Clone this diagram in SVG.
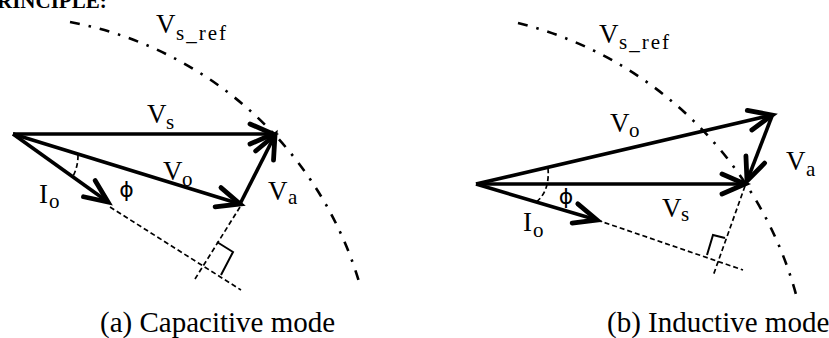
<svg xmlns="http://www.w3.org/2000/svg" width="829" height="338" viewBox="0 0 829 338">
<style>
.vec{fill:none;stroke:#000;stroke-width:3.6;marker-end:url(#ah)}
.dash{fill:none;stroke:#000;stroke-width:1.7;stroke-dasharray:5 3}
.mark{fill:none;stroke:#000;stroke-width:2}
.circ{fill:none;stroke:#000;stroke-width:2.6;stroke-dasharray:10 9 2.5 9}
.v{font-family:"Liberation Serif",serif;font-size:27px;fill:#000}
.sub{font-size:21px}
.phi{font-family:"DejaVu Sans",sans-serif;font-size:22px;fill:#000;text-anchor:middle}
.cap{font-family:"Liberation Serif",serif;font-size:29px;fill:#000}
.head{font-family:"Liberation Serif",serif;font-size:21px;font-weight:bold;fill:#000}
</style>
<defs>
<marker id="ah" markerUnits="userSpaceOnUse" markerWidth="40" markerHeight="40" viewBox="-30 -20 40 40" refX="0" refY="0" orient="auto" overflow="visible">
<path d="M-23,-10 L0,0 L-23,10" fill="none" stroke="#000" stroke-width="4.8" stroke-linecap="round"/>
</marker>
</defs>
<rect width="829" height="338" fill="#fff"/>
<text class="head" x="-3" y="8">RINCIPLE:</text>

<g id="panel-a">
<g id="connectors-a">
<path class="circ" d="M70,22 A374,374 0 0 1 360,285"/>
<path class="dash" d="M110,207 L241,290"/>
<path class="dash" d="M240,207 L195,279"/>
<path class="mark" d="M217,242 L233,252 L221,275"/>
<path class="dash" d="M78,155 Q78,168 72,178"/>
<path class="vec" d="M13,134 L273,134"/>
<path class="vec" d="M13,134 L240,204"/>
<path class="vec" d="M240,204 L275,135"/>
<path class="vec" d="M13,134 L108,202"/>
</g>
<g id="label-vsref-a"><text class="v" x="156" y="33">V<tspan class="sub" x="176" y="40" textLength="50">s_ref</tspan></text></g>
<g id="label-vs-a"><text class="v" x="147" y="123">V<tspan class="sub" x="166" y="129">s</tspan></text></g>
<g id="label-vo-a"><text class="v" x="163" y="180">V<tspan class="sub" x="182" y="186">o</tspan></text></g>
<g id="label-va-a"><text class="v" x="268" y="200">V<tspan class="sub" x="288" y="204">a</tspan></text></g>
<g id="label-io-a"><text class="v" x="39" y="203">I<tspan class="sub" x="49" y="208">o</tspan></text></g>
<g id="label-phi-a"><text class="phi" x="126.5" y="197">ϕ</text></g>
<g id="caption-a"><text class="cap" x="100" y="332">(a) Capacitive mode</text></g>
</g>

<g id="panel-b">
<g id="connectors-b">
<path class="circ" d="M518,23 A385,385 0 0 1 798,302"/>
<path class="dash" d="M597,220 L743,270"/>
<path class="dash" d="M745,186 L713,276"/>
<path class="mark" d="M707,255 L713,235 L725,238"/>
<path class="dash" d="M548,168 Q550,192 535,203"/>
<path class="vec" d="M476,184 L745,184"/>
<path class="vec" d="M476,184 L772,115"/>
<path class="vec" d="M772,116 L747,181"/>
<path class="vec" d="M476,184 L597,220"/>
</g>
<g id="label-vsref-b"><text class="v" x="599" y="43">V<tspan class="sub" x="619" y="49" textLength="50">s_ref</tspan></text></g>
<g id="label-vo-b"><text class="v" x="610" y="132">V<tspan class="sub" x="629" y="137">o</tspan></text></g>
<g id="label-va-b"><text class="v" x="786" y="170">V<tspan class="sub" x="806" y="176">a</tspan></text></g>
<g id="label-vs-b"><text class="v" x="662" y="217">V<tspan class="sub" x="681" y="221">s</tspan></text></g>
<g id="label-io-b"><text class="v" x="523" y="231">I<tspan class="sub" x="533" y="237">o</tspan></text></g>
<g id="label-phi-b"><text class="phi" x="566" y="204">ϕ</text></g>
<g id="caption-b"><text class="cap" x="607" y="332">(b) Inductive mode</text></g>
</g>
</svg>
